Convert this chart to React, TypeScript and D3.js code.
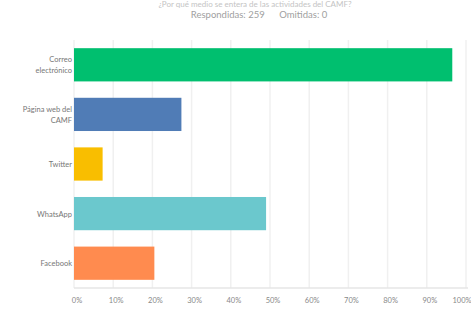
import React, { useRef, useEffect } from 'react';
import * as d3 from 'd3';

const categories = ['Correo electrónico', 'Página web del CAMF', 'Twitter', 'WhatsApp', 'Facebook'];
const labelLines = [['Correo', 'electrónico'], ['Página web del', 'CAMF'], ['Twitter'], ['WhatsApp'], ['Facebook']];
const percents = [96.5, 27.4, 7.3, 49.0, 20.5];
const colors = ['#00bf6f', '#507cb6', '#f9be00', '#6bc8cd', '#ff8b4f'];
const ticks = [0, 10, 20, 30, 40, 50, 60, 70, 80, 90, 100];

const W = 471;
const H = 309;

const App = () => {
  const svgRef = useRef<SVGSVGElement>(null);

  useEffect(() => {
    const svg = d3.select(svgRef.current);
    svg.selectAll('*').remove();

    const font = 'Lato, "Open Sans", sans-serif';

    const x = d3.scaleLinear().domain([0, 100]).range([74, 466]);
    const y = d3.scaleBand()
      .domain(categories)
      .range([40, 288])
      .paddingInner(0.33)
      .paddingOuter(0.165);

    // title (barely visible at the top in the original)
    svg.append('text')
      .attr('x', 255)
      .attr('y', 7)
      .attr('text-anchor', 'middle')
      .attr('font-family', font)
      .attr('font-size', 8)
      .attr('fill', '#c4c4c4')
      .text('¿Por qué medio se entera de las actividades del CAMF?');

    svg.append('text')
      .attr('x', 259)
      .attr('y', 18)
      .attr('text-anchor', 'middle')
      .attr('font-family', font)
      .attr('font-size', 9.5)
      .attr('fill', '#a0a0a0')
      .attr('xml:space', 'preserve')
      .text('Respondidas: 259      Omitidas: 0');

    // gridlines
    svg.append('g')
      .selectAll('line')
      .data(ticks)
      .join('line')
      .attr('x1', d => x(d))
      .attr('x2', d => x(d))
      .attr('y1', 40)
      .attr('y2', 288)
      .attr('stroke', '#f0f0f0')
      .attr('stroke-width', 1.5);

    svg.append('line')
      .attr('x1', 74)
      .attr('x2', 468)
      .attr('y1', 288)
      .attr('y2', 288)
      .attr('stroke', '#e6e6e6')
      .attr('stroke-width', 1.5);

    // bars
    svg.append('g')
      .selectAll('rect')
      .data(categories)
      .join('rect')
      .attr('x', x(0))
      .attr('y', d => y(d) as number)
      .attr('width', (d, i) => x(percents[i]) - x(0))
      .attr('height', y.bandwidth())
      .attr('fill', (d, i) => colors[i]);

    // category labels
    const lab = svg.append('g')
      .attr('font-family', font)
      .attr('font-size', 7.5)
      .attr('fill', '#777')
      .attr('text-anchor', 'end');
    categories.forEach((c, i) => {
      const lines = labelLines[i];
      const cy = (y(c) as number) + y.bandwidth() / 2;
      const t = lab.append('text')
        .attr('x', 72)
        .attr('y', cy - (lines.length - 1) * 5.5 + 3);
      lines.forEach((l, j) => {
        t.append('tspan')
          .attr('x', 72)
          .attr('dy', j === 0 ? 0 : 11)
          .text(l);
      });
    });

    // x tick labels
    svg.append('g')
      .selectAll('text')
      .data(ticks)
      .join('text')
      .attr('x', d => (d === 100 ? x(d) - 4 : x(d) + 3))
      .attr('y', 303)
      .attr('text-anchor', 'middle')
      .attr('font-family', font)
      .attr('font-size', 7.5)
      .attr('fill', '#888')
      .text(d => `${d}%`);
  }, []);

  return (
    <svg
      ref={svgRef}
      width={W}
      height={H}
      style={{ position: 'absolute', left: 0, top: 0, background: '#fff' }}
    />
  );
};

export default App;
